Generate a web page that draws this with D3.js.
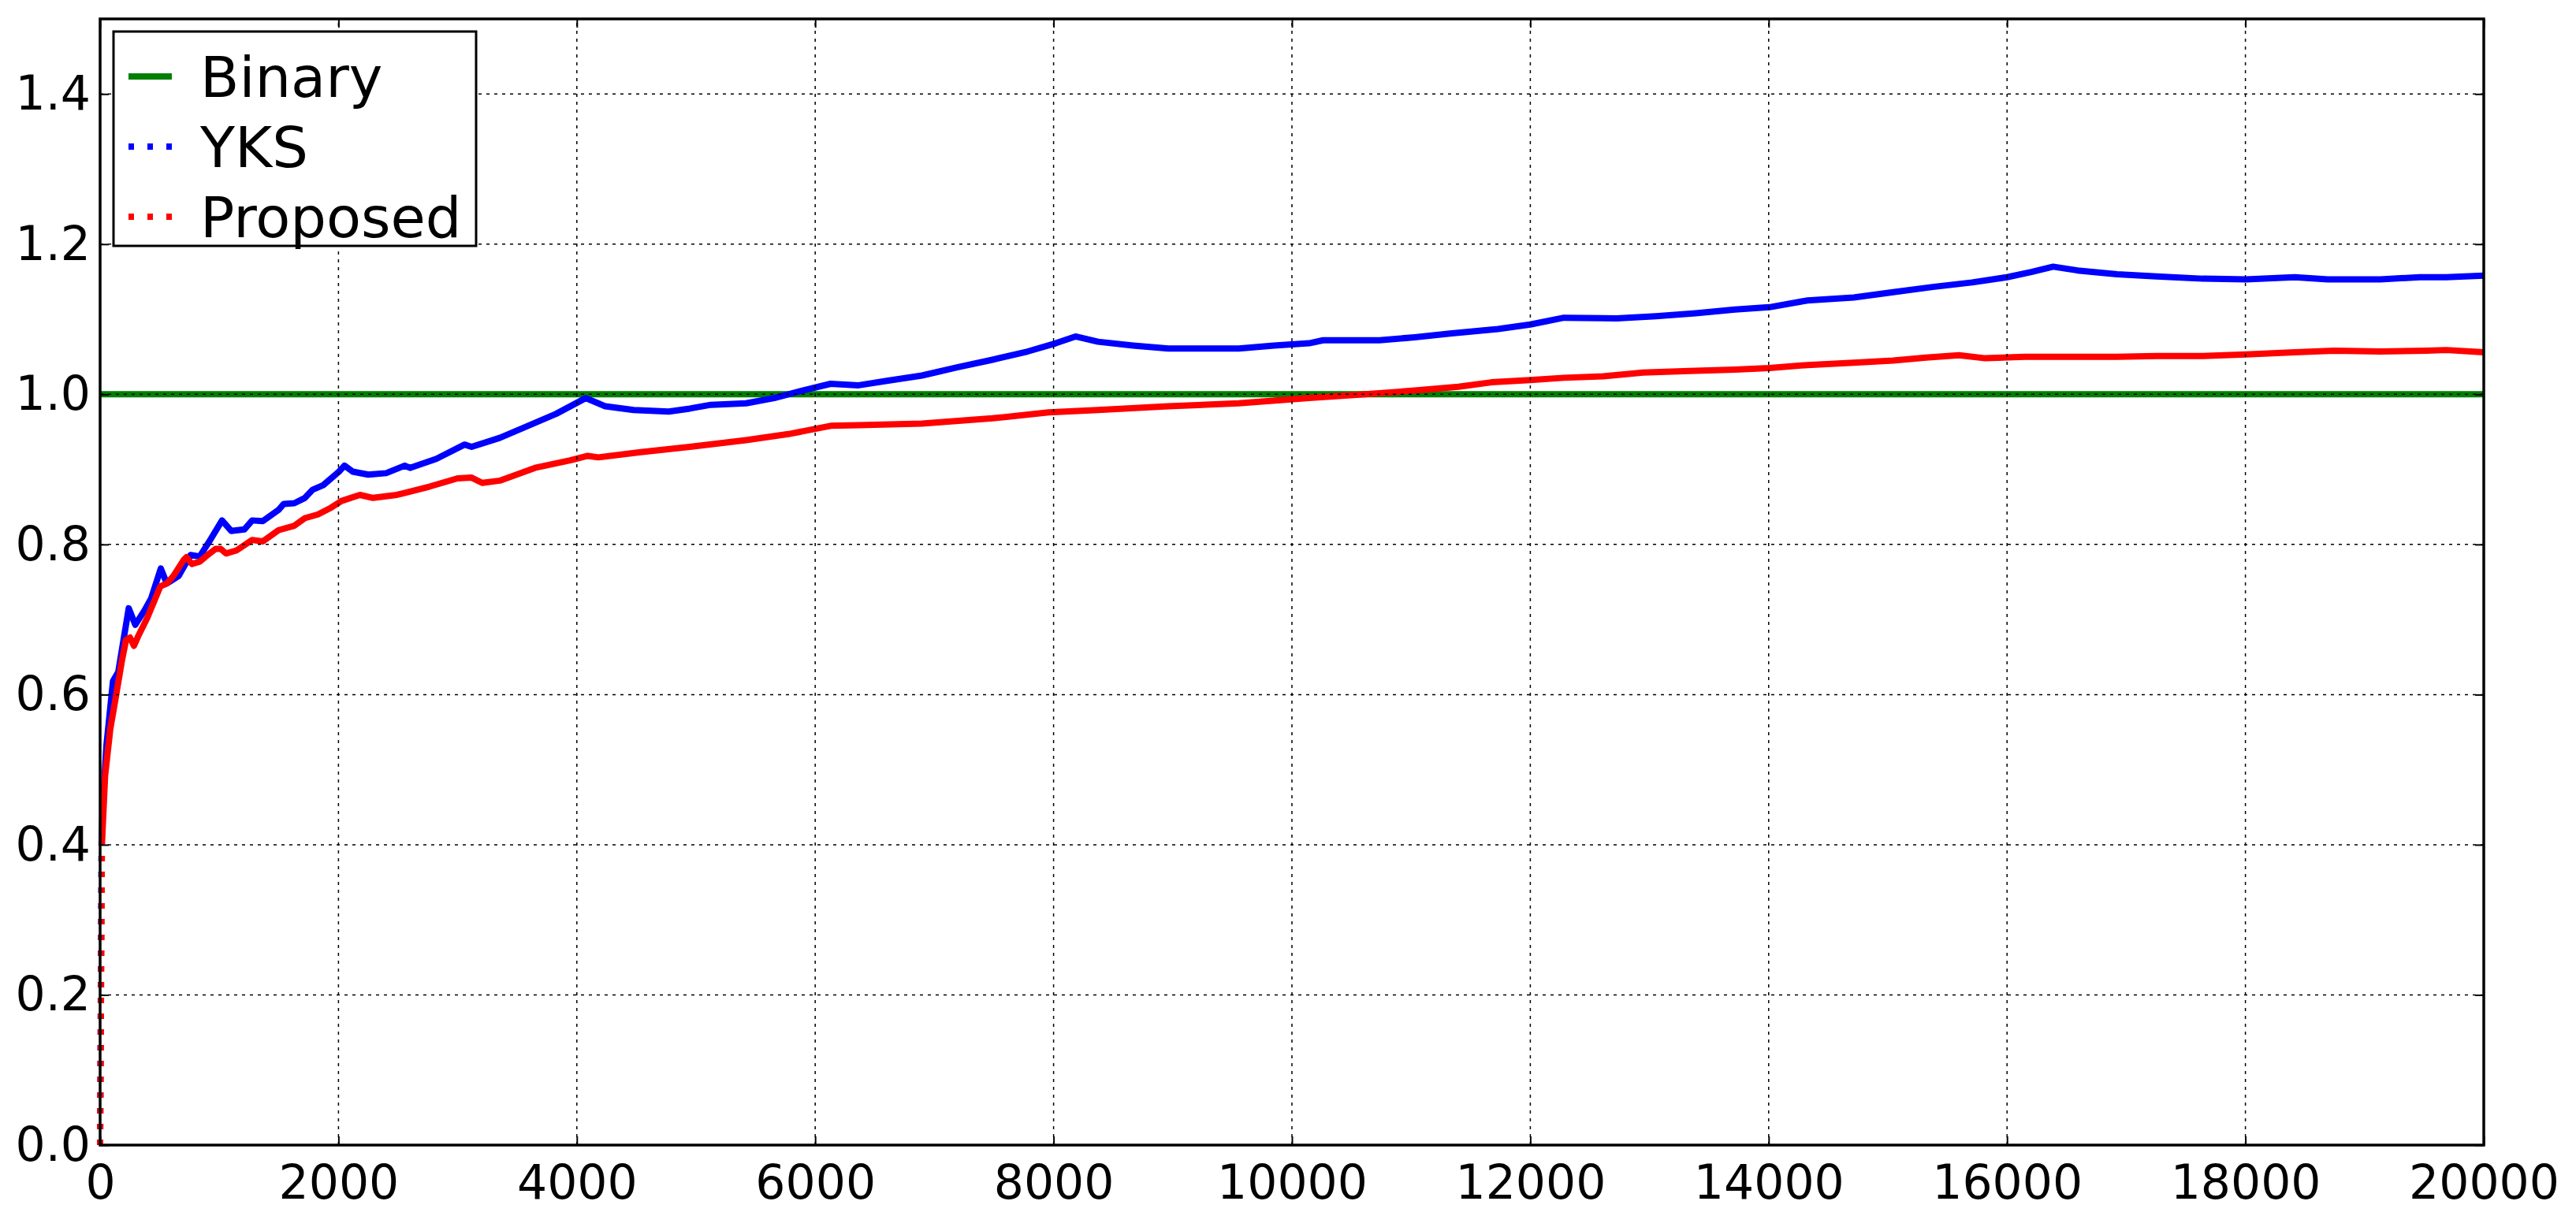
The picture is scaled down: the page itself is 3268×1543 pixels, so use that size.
<!DOCTYPE html>
<html>
<head>
<meta charset="utf-8">
<script src="https://cdn.jsdelivr.net/npm/d3@7"></script>
<style>
  html, body { margin: 0; padding: 0; background: #fff; }
  text { font-family: "DejaVu Sans", sans-serif; fill: #000; }
</style>
</head>
<body>
<div id="chart"></div>
<script>
// x positions and values
var yksX = [0, 12, 25, 53, 108, 152, 240, 295, 372, 428, 509, 560, 659, 759, 836, 924, 1023, 1100, 1210, 1276,
  1365, 1497, 1541, 1630, 1718, 1784, 1872, 2004, 2050, 2120, 2250, 2400, 2556, 2600, 2821, 3058, 3117, 3353,
  3590, 3826, 4074, 4239, 4476, 4771, 4948, 5125, 5420, 5656, 5893, 6129, 6365, 6601, 6896, 7191, 7487, 7782,
  8018, 8184, 8373, 8668, 8963, 9259, 9554, 9849, 10144, 10262, 10735, 11030, 11325, 11729, 12000, 12282,
  12724, 13055, 13387, 13718, 14006, 14326, 14713, 15044, 15376, 15707, 16000, 16204, 16387, 16591, 16923,
  17254, 17641, 18006, 18414, 18691, 19133, 19464, 19685, 20000]
var yksY = [0.0, 0.40, 0.46, 0.532, 0.618, 0.63, 0.715, 0.693, 0.712, 0.728, 0.768, 0.748, 0.758, 0.786, 0.784,
  0.806, 0.832, 0.818, 0.82, 0.832, 0.831, 0.846, 0.854, 0.855, 0.862, 0.873, 0.879, 0.897, 0.905, 0.897,
  0.893, 0.895, 0.905, 0.902, 0.914, 0.933, 0.93, 0.942, 0.958, 0.974, 0.995, 0.984, 0.979, 0.977, 0.981,
  0.986, 0.988, 0.995, 1.005, 1.014, 1.012, 1.018, 1.025, 1.036, 1.046, 1.057, 1.068, 1.077, 1.07, 1.065,
  1.061, 1.061, 1.061, 1.065, 1.068, 1.072, 1.072, 1.076, 1.081, 1.087, 1.093, 1.102, 1.101, 1.104, 1.108,
  1.113, 1.116, 1.125, 1.129, 1.136, 1.143, 1.149, 1.156, 1.163, 1.170, 1.165, 1.160, 1.157, 1.154, 1.153,
  1.156, 1.153, 1.153, 1.156, 1.156, 1.158]

var propX = [0, 15, 42, 86, 130, 185, 218, 251, 284, 317, 395, 505, 560, 615, 704, 725, 770, 836, 902, 968,
  1012, 1056, 1144, 1276, 1365, 1497, 1630, 1718, 1828, 1938, 2026, 2180, 2290, 2489, 2762, 2999, 3117, 3206,
  3353, 3649, 3944, 4092, 4180, 4535, 4948, 5420, 5775, 6129, 6365, 6896, 7487, 7959, 8373, 8963, 9554,
  10144, 10617, 11030, 11398, 11674, 12000, 12282, 12613, 12945, 13332, 13718, 14006, 14326, 14713, 15044,
  15320, 15597, 15818, 16149, 16536, 16923, 17254, 17641, 18006, 18414, 18746, 19133, 19519, 19685, 20000]
var propY = [0.0, 0.40, 0.492, 0.555, 0.595, 0.647, 0.673, 0.676, 0.665, 0.677, 0.702, 0.744, 0.748, 0.758,
  0.78, 0.783, 0.774, 0.777, 0.786, 0.794, 0.794, 0.788, 0.792, 0.806, 0.804, 0.819, 0.825, 0.835, 0.84,
  0.849, 0.858, 0.866, 0.862, 0.866, 0.877, 0.888, 0.889, 0.882, 0.885, 0.902, 0.912, 0.918, 0.916, 0.923,
  0.93, 0.939, 0.947, 0.958, 0.959, 0.961, 0.968, 0.976, 0.979, 0.984, 0.988, 0.995, 1.0, 1.005, 1.010,
  1.016, 1.019, 1.022, 1.024, 1.029, 1.031, 1.033, 1.035, 1.039, 1.042, 1.045, 1.049, 1.052, 1.048, 1.050,
  1.050, 1.050, 1.051, 1.051, 1.053, 1.056, 1.058, 1.057, 1.058, 1.059, 1.056]

var binaryX = [0, 20000]
var binaryY = [1.0, 1.0]

var xTicks = d3.range(0, 20001, 2000)
var yTicks = [0.0, 0.2, 0.4, 0.6, 0.8, 1.0, 1.2, 1.4]
var legendNames = ['Binary', 'YKS', 'Proposed']

var W = 3268, H = 1543
var m = {left: 127, right: W - 3151, top: 24, bottom: H - 1453}

var svg = d3.select('#chart').append('svg')
  .attr('width', W).attr('height', H)

var x = d3.scaleLinear().domain([0, 20000]).range([m.left, W - m.right])
var y = d3.scaleLinear().domain([0, 1.5]).range([H - m.bottom, m.top])

var zip = (xs, ys) => xs.map((d, i) => [d, ys[i]])
var binary = zip(binaryX, binaryY)
var yks = zip(yksX, yksY)
var prop = zip(propX, propY)

var line = d3.line().x(d => x(d[0])).y(d => y(d[1]))
var lw = 8

var plot = svg.append('g')

plot.append('path').datum(binary)
  .attr('d', line).attr('fill', 'none').attr('stroke', '#008000').attr('stroke-width', lw)

// steep start shows as dots, the dense rest reads as a solid line
;[[yks, '#0000ff'], [prop, '#ff0000']].forEach(([data, color]) => {
  plot.append('path').datum(data.slice(0, 2))
    .attr('d', line).attr('fill', 'none').attr('stroke', color)
    .attr('stroke-width', lw).attr('stroke-dasharray', '7,13')
  plot.append('path').datum(data.slice(1))
    .attr('d', line).attr('fill', 'none').attr('stroke', color)
    .attr('stroke-width', lw).attr('stroke-linejoin', 'round')
})

// grid on top of the lines
var grid = svg.append('g')
grid.selectAll('line.gx').data(xTicks.slice(1, -1)).join('line')
  .attr('x1', d => x(d)).attr('x2', d => x(d))
  .attr('y1', y(0)).attr('y2', y(1.5))
  .attr('stroke', '#000').attr('stroke-width', 1.5).attr('stroke-dasharray', '4,6')
grid.selectAll('line.gy').data(yTicks.slice(1)).join('line')
  .attr('x1', x(0)).attr('x2', x(20000))
  .attr('y1', d => y(d)).attr('y2', d => y(d))
  .attr('stroke', '#000').attr('stroke-width', 1.5).attr('stroke-dasharray', '4,6')

// axes: inward ticks on all four sides
var tl = 11
var xb = svg.append('g').attr('transform', `translate(0,${y(0)})`)
  .call(d3.axisBottom(x).tickValues(xTicks).tickSize(-tl).tickPadding(tl + 14).tickFormat(d3.format('d')))
var xt = svg.append('g').attr('transform', `translate(0,${y(1.5)})`)
  .call(d3.axisTop(x).tickValues(xTicks).tickSize(-tl).tickFormat(''))
var yl = svg.append('g').attr('transform', `translate(${x(0)},0)`)
  .call(d3.axisLeft(y).tickValues(yTicks).tickSize(-tl).tickPadding(12).tickFormat(d3.format('.1f')))
var yr = svg.append('g').attr('transform', `translate(${x(20000)},0)`)
  .call(d3.axisRight(y).tickValues(yTicks).tickSize(-tl).tickFormat(''))

;[xb, xt, yl, yr].forEach(g => {
  g.select('.domain').remove()
  g.selectAll('.tick line').attr('stroke', '#000').attr('stroke-width', 2)
  g.selectAll('.tick text').attr('font-size', 60).attr('font-family', '"DejaVu Sans", sans-serif').attr('fill', '#000')
})
xb.selectAll('.tick text').attr('dy', '0.71em')

svg.append('rect')
  .attr('x', x(0)).attr('y', y(1.5))
  .attr('width', x(20000) - x(0)).attr('height', y(0) - y(1.5))
  .attr('fill', 'none').attr('stroke', '#000').attr('stroke-width', 3.5)

// legend
var lg = svg.append('g').attr('transform', 'translate(144,40)')
lg.append('rect').attr('width', 460).attr('height', 272)
  .attr('fill', '#fff').attr('stroke', '#000').attr('stroke-width', 3)

var legendColors = ['#008000', '#0000ff', '#ff0000']
var legendDash = [null, '7,17', '7,17']
var rowY = d3.scalePoint().domain(legendNames).range([57, 235])

var rows = lg.selectAll('g.row').data(legendNames).join('g')
  .attr('transform', d => `translate(0,${rowY(d)})`)
rows.append('line')
  .attr('x1', 19).attr('x2', 74)
  .attr('stroke', (d, i) => legendColors[i])
  .attr('stroke-width', lw)
  .attr('stroke-dasharray', (d, i) => legendDash[i])
rows.append('text')
  .attr('x', 110).attr('y', 0).attr('dy', '0.36em')
  .attr('font-size', 72)
  .text(d => d)
</script>
</body>
</html>
